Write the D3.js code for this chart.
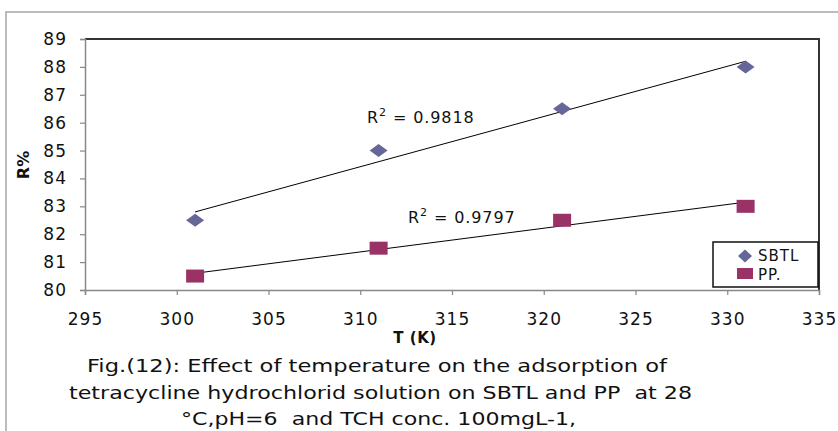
<!DOCTYPE html>
<html><head><meta charset="utf-8">
<script src="https://cdn.jsdelivr.net/npm/d3@7"></script>
<style>body{margin:0;background:#fff;} svg{display:block;font-family:"DejaVu Sans",Verdana,sans-serif;} text{white-space:pre;}</style>
</head><body>
<script>
const temps = [301, 311, 321, 331];
const sbtl = [82.5, 85, 86.5, 88];
const pp = [80.5, 81.5, 82.5, 83];
const xTicks = [295, 300, 305, 310, 315, 320, 325, 330, 335];
const yTicks = [80, 81, 82, 83, 84, 85, 86, 87, 88, 89];
const seriesNames = ["SBTL", "PP."];
const r2Labels = ["0.9818", "0.9797"];
const captionLines = [
  "Fig.(12): Effect of temperature on the adsorption of",
  "tetracycline hydrochlorid solution on SBTL and PP  at 28",
  "°C,pH=6  and TCH conc. 100mgL-1,"
];

const W = 838, H = 431;
const svg = d3.select("body").append("svg").attr("width", W).attr("height", H);

// outer frame
svg.append("rect").attr("x", 6).attr("y", 12).attr("width", 900).attr("height", 600)
  .attr("fill", "none").attr("stroke", "#a6a6a6").attr("stroke-width", 1.5);

const x = d3.scaleLinear().domain([295, 335]).range([85, 819]);
const y = d3.scaleLinear().domain([80, 89]).range([290, 39]);

// plot border top/right
svg.append("path").attr("d", `M${x(295)},${y(89)}H${x(335)}V${y(80)}`)
  .attr("fill", "none").attr("stroke", "#333").attr("stroke-width", 2);

// axes
const yAxis = svg.append("g").attr("transform", `translate(${x(295)},0)`)
  .call(d3.axisLeft(y).tickValues(yTicks).tickSize(5).tickPadding(13).tickFormat(d3.format("d")));
const xAxis = svg.append("g").attr("transform", `translate(0,${y(80)})`)
  .call(d3.axisBottom(x).tickValues(xTicks).tickSize(5).tickPadding(18).tickFormat(d3.format("d")));
[yAxis, xAxis].forEach(g => {
  g.select(".domain").attr("stroke", "#888").attr("stroke-width", 1.5);
  g.selectAll(".tick line").attr("stroke", "#888").attr("stroke-width", 1.2);
  g.selectAll(".tick text").attr("fill", "#111").style("font-size", "17px")
    .style("letter-spacing", "1px")
    .style("font-family", "DejaVu Sans, sans-serif");
});

// regression trendlines
function fit(xs, ys) {
  const mx = d3.mean(xs), my = d3.mean(ys);
  const sxy = d3.sum(xs, (v, i) => (v - mx) * (ys[i] - my));
  const sxx = d3.sum(xs, v => (v - mx) ** 2);
  const b = sxy / sxx, a = my - b * mx;
  return v => a + b * v;
}
const line = d3.line().x(d => x(d[0])).y(d => y(d[1]));
[sbtl, pp].forEach(ys => {
  const f = fit(temps, ys);
  const ext = d3.extent(temps);
  svg.append("path").attr("d", line(ext.map(t => [t, f(t)])))
    .attr("stroke", "#000").attr("stroke-width", 1).attr("fill", "none");
});

// markers
const diamond = (cx, cy) => `M${cx},${cy - 6.5}L${cx + 9},${cy}L${cx},${cy + 6.5}L${cx - 9},${cy}Z`;
svg.append("g").selectAll("path").data(temps).join("path")
  .attr("d", (t, i) => diamond(x(t), y(sbtl[i]))).attr("fill", "#666699");
svg.append("g").selectAll("rect").data(temps).join("rect")
  .attr("x", t => x(t) - 9).attr("y", (t, i) => y(pp[i]) - 6.5)
  .attr("width", 18).attr("height", 13).attr("fill", "#993366");

// R² labels
function r2(xp, yp, val) {
  const t = svg.append("text").attr("x", xp).attr("y", yp).style("font-size", "16px")
    .style("letter-spacing", "0.9px").attr("fill", "#111");
  t.append("tspan").text("R");
  t.append("tspan").attr("dy", -7).style("font-size", "11px").text("2");
  t.append("tspan").attr("dy", 7).text(" = " + val);
}
r2(367, 123, r2Labels[0]);
r2(408, 223, r2Labels[1]);

// legend
svg.append("rect").attr("x", 713).attr("y", 242).attr("width", 105).attr("height", 45)
  .attr("fill", "#fff").attr("stroke", "#111").attr("stroke-width", 1.5);
svg.append("path").attr("d", `M745,249.5L752,256L745,262.5L738,256Z`).attr("fill", "#666699");
svg.append("rect").attr("x", 737).attr("y", 268).attr("width", 16).attr("height", 11).attr("fill", "#993366");
svg.append("text").attr("x", 758).attr("y", 261).style("font-size", "15px").style("letter-spacing", "1px")
  .attr("fill", "#111").text(seriesNames[0]);
svg.append("text").attr("x", 758).attr("y", 280).style("font-size", "15px").style("letter-spacing", "1px")
  .attr("fill", "#111").text(seriesNames[1]);

// axis titles
svg.append("text").attr("x", 415).attr("y", 343).attr("text-anchor", "middle")
  .style("font-size", "15px").style("font-weight", "bold").style("letter-spacing", "0.5px")
  .attr("fill", "#111").text("T (K)");
svg.append("text").attr("transform", "translate(29,165) rotate(-90)").attr("text-anchor", "middle")
  .style("font-size", "16px").style("font-weight", "bold").attr("fill", "#111").text("R%");

// caption
const capPos = [[87, 372, 580], [69, 399, 623], [181, 425, 395]];
captionLines.forEach((s, i) => {
  svg.append("text").attr("x", capPos[i][0]).attr("y", capPos[i][1])
    .attr("textLength", capPos[i][2]).attr("lengthAdjust", "spacingAndGlyphs")
    .style("font-size", "18px").attr("fill", "#111").text(s);
});
</script>
</body></html>
